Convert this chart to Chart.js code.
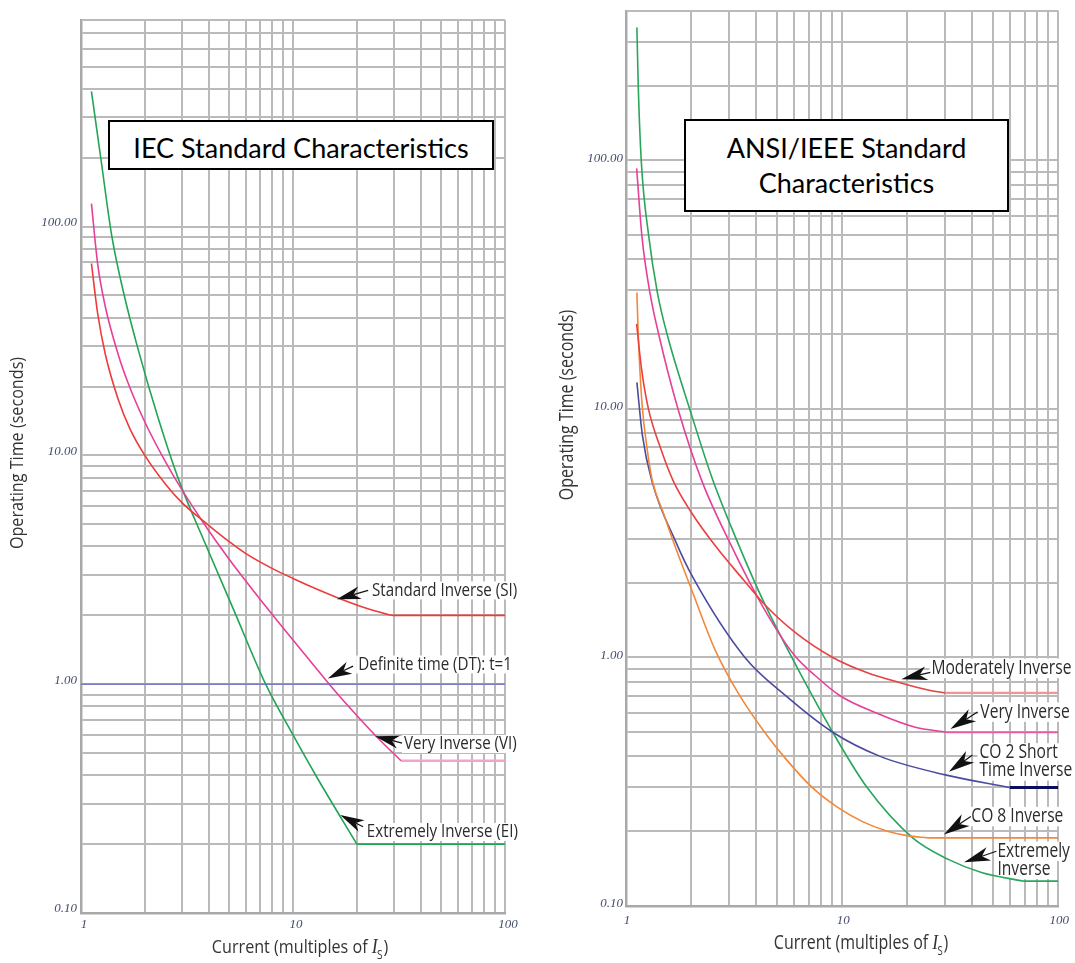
<!DOCTYPE html>
<html lang="en">
<head>
<meta charset="utf-8">
<title>IEC and ANSI/IEEE relay characteristics</title>
<script src="https://cdn.jsdelivr.net/npm/chart.js@4.4.1/dist/chart.umd.min.js"></script>
<style>
  html, body { margin: 0; padding: 0; background: #ffffff; }
  #page { position: relative; width: 1075px; height: 963px; overflow: hidden; }
  #leftChart { position: absolute; left: 0; top: 0; }
  #rightChart { position: absolute; left: 540px; top: 0; }
  .title-box {
    position: absolute; box-sizing: border-box; border: 2px solid #000; background: #fff;
    font-family: Lato, 'Open Sans', sans-serif; font-size: 27px; line-height: 35px;
    text-align: center; color: #000;
  }
  #iecTitle { left: 108px; top: 120px; width: 386px; height: 50px; padding-top: 8px; }
  #ansiTitle { left: 684px; top: 119px; width: 325px; height: 93px; padding-top: 9px; }
</style>
</head>
<body>
<div id="page">
  <canvas id="leftChart" width="540" height="963"></canvas>
  <canvas id="rightChart" width="535" height="963"></canvas>
  <div class="title-box" id="iecTitle">IEC Standard Characteristics</div>
  <div class="title-box" id="ansiTitle">ANSI/IEEE Standard<br>Characteristics</div>
</div>
<script>
// ---- axis ticks ----
const currentTicks = [1, 2, 3, 4, 5, 6, 7, 8, 9, 10, 20, 30, 40, 50, 60, 70, 80, 90, 100];
const currentLabels = [1, 10, 100];
const iecTimeTicks = [0.1, 0.2, 0.3, 0.4, 0.5, 0.6, 0.7, 0.8, 0.9, 1, 2, 3, 4, 5, 6, 7, 8, 9,
  10, 20, 30, 40, 50, 60, 70, 80, 90, 100, 200, 300, 400, 500, 600, 700, 800];
const ansiTimeTicks = [0.1, 0.2, 0.3, 0.4, 0.5, 0.6, 0.7, 0.8, 0.9, 1, 2, 3, 4, 5, 6, 7, 8, 9,
  10, 20, 30, 40, 50, 60, 70, 80, 90, 100, 200, 300, 400];
const timeLabels = [0.1, 1, 10, 100];

// ---- IEC curves (current in multiples of Is, time in s) ----
const siCurrent = [1.12, 1.2, 1.3, 1.5, 1.7, 2, 2.5, 3, 4, 5, 6, 8, 10, 13, 16, 20, 25, 30, 100];
const siTime    = [69, 41.4, 27.9, 17.5, 13.1, 10, 7.5, 6.2, 4.95, 4.2, 3.72, 3.2, 2.9, 2.6, 2.4, 2.22, 2.08, 2.0, 2.0];

const viCurrent = [1.12, 1.2, 1.3, 1.5, 1.7, 2, 2.5, 3, 4, 5, 6, 8, 10, 13, 16, 20, 25, 32.3];
const viTime    = [126, 68, 45, 27.5, 19.8, 14, 9.4, 7.05, 4.7, 3.52, 2.82, 2.01, 1.56, 1.16, 0.92, 0.73, 0.585, 0.463];
const viFlatCurrent = [32.3, 100];
const viFlatTime    = [0.463, 0.463];

const eiCurrent = [1.12, 1.24, 1.4, 1.6, 1.85, 2.3, 2.9, 3.92, 5.3, 7.43, 10, 13, 20];
const eiTime    = [390, 199, 89.9, 50, 29.6, 14.8, 7.76, 3.97, 2.07, 1.0, 0.6, 0.39, 0.2];
const eiFlatCurrent = [20, 100];
const eiFlatTime    = [0.2, 0.2];

const dtCurrent = [1, 100];
const dtTime    = [1, 1];

// ---- ANSI/IEEE curves ----
const miCurrent = [1.12, 1.18, 1.27, 1.45, 1.66, 2.0, 2.6, 3.5, 4.3, 6.0, 9.05, 13, 18.7, 25, 30];
const miTime    = [22, 14.5, 10, 6.9, 5.1, 3.85, 2.8, 2.05, 1.66, 1.27, 1.0, 0.87, 0.79, 0.74, 0.72];
const miFlatCurrent = [30, 100];
const miFlatTime    = [0.72, 0.72];

const aviCurrent = [1.12, 1.186, 1.29, 1.422, 1.74, 2.25, 3.05, 4.23, 5.96, 7.5, 9.7, 14.5, 21.6, 30.5];
const aviTime    = [92.9, 49.1, 29.4, 19.7, 10, 5.1, 2.85, 1.64, 1.03, 0.846, 0.705, 0.596, 0.525, 0.5];
const aviFlatCurrent = [30.5, 100];
const aviFlatTime    = [0.5, 0.5];

const co2Current = [1.123, 1.19, 1.32, 1.706, 2.04, 3.55, 5.5, 9.05, 15, 30, 59.6];
const co2Time    = [12.8, 7.87, 5.1, 2.9, 2.1, 1.0, 0.7, 0.5, 0.4, 0.337, 0.3];
const co2FlatCurrent = [59.6, 100];
const co2FlatTime    = [0.3, 0.3];

const co8Current = [1.123, 1.14, 1.186, 1.25, 1.32, 1.5, 1.7, 2.0, 2.6, 3.3, 4.38, 5.5, 7.26, 9.5, 12.5, 16.2, 20, 25];
const co8Time    = [29.4, 19.7, 10.5, 7.0, 5.2, 3.75, 2.75, 1.9, 1.06, 0.72, 0.5, 0.39, 0.3, 0.25, 0.218, 0.2, 0.192, 0.188];
const co8FlatCurrent = [25, 100];
const co8FlatTime    = [0.188, 0.188];

const aeiCurrent = [1.123, 1.14, 1.178, 1.276, 1.397, 1.556, 1.971, 2.497, 3.16, 4.3, 5.85, 9.05, 13.0, 21.2, 31, 44.5, 68.7];
const aeiTime    = [343, 196, 98, 49.1, 29.4, 19.7, 10, 5.3, 3.15, 1.7, 1.0, 0.5, 0.301, 0.188, 0.154, 0.136, 0.126];
const aeiFlatCurrent = [68.7, 100];
const aeiFlatTime    = [0.126, 0.126];

// ---- curve labels: text start, arrow tip and arrow tail, in data units ----
const iecNotes = [
  { text: ['Standard Inverse (SI)'], at: [23.6, 2.57], tip: [16.1, 2.35], tail: [22.6, 2.57] },
  { text: ['Definite time (DT): t=1'], at: [20.3, 1.22], tip: [14.6, 1.06], tail: [19.2, 1.2] },
  { text: ['Very Inverse (VI)'], at: [33.4, 0.548], tip: [24.4, 0.593], tail: [32.7, 0.553] },
  { text: ['Extremely Inverse (EI)'], at: [22.3, 0.226], tip: [16.7, 0.268], tail: [21.4, 0.238] }
];
const ansiNotes = [
  { text: ['Moderately Inverse'], at: [25.9, 0.904], tip: [18.8, 0.817], tail: [25.6, 0.871] },
  { text: ['Very Inverse'], at: [43.6, 0.603], tip: [31.7, 0.515], tail: [42.3, 0.603] },
  { text: ['CO 2 Short', 'Time Inverse'], at: [43.2, 0.413], tip: [31.2, 0.347], tail: [40.1, 0.405] },
  { text: ['CO 8 Inverse'], at: [39.6, 0.229], tip: [29.6, 0.194], tail: [39.4, 0.229] },
  { text: ['Extremely', 'Inverse'], at: [52.3, 0.166], tip: [36.7, 0.150], tail: [51.7, 0.166] }
];

const gridColor = '#bababa';
const tickColor = '#434b6c';
const labelFamily = "'Open Sans', 'Noto Sans', sans-serif";

function points(xs, ys) {
  return xs.map((x, i) => ({ x: x, y: ys[i] }));
}

function line(xs, ys, color, width) {
  return {
    data: points(xs, ys),
    borderColor: color,
    borderWidth: width,
    pointRadius: 0,
    fill: false,
    cubicInterpolationMode: 'monotone'
  };
}

function drawDart(ctx, tx, ty, sx, sy, len, half) {
  const dx = tx - sx, dy = ty - sy;
  const d = Math.hypot(dx, dy);
  const ux = dx / d, uy = dy / d, nx = -uy, ny = ux;
  const bx = tx - ux * len, by = ty - uy * len;
  const mx = tx - ux * len * 0.72, my = ty - uy * len * 0.72;
  ctx.beginPath();
  ctx.moveTo(tx, ty);
  ctx.lineTo(bx + nx * half, by + ny * half);
  ctx.lineTo(mx, my);
  ctx.lineTo(bx - nx * half, by - ny * half);
  ctx.closePath();
  ctx.fill();
  ctx.beginPath();
  ctx.moveTo(mx, my);
  ctx.lineTo(sx, sy);
  ctx.stroke();
}

// draws the curve labels, arrows and the axis titles
function decorPlugin(notes, look) {
  const font = look.size + 'px ' + labelFamily;
  return {
    id: 'decor',
    beforeDatasetsDraw(chart) {
      const ctx = chart.ctx, xs = chart.scales.x, ys = chart.scales.y;
      ctx.save();
      ctx.font = font;
      ctx.fillStyle = '#ffffff';
      notes.forEach(n => {
        const x = xs.getPixelForValue(n.at[0]);
        const y = ys.getPixelForValue(n.at[1]);
        n.text.forEach((t, i) => {
          const w = ctx.measureText(t).width * look.squeeze;
          ctx.fillRect(x - 2, y + i * look.gap - look.size * 0.5, w + 4, look.size);
        });
      });
      ctx.restore();
    },
    afterDatasetsDraw(chart) {
      const ctx = chart.ctx, xs = chart.scales.x, ys = chart.scales.y;
      ctx.save();
      ctx.fillStyle = '#111111';
      ctx.strokeStyle = '#111111';
      ctx.lineWidth = 1.2;
      notes.forEach(n => {
        drawDart(ctx,
          xs.getPixelForValue(n.tip[0]), ys.getPixelForValue(n.tip[1]),
          xs.getPixelForValue(n.tail[0]), ys.getPixelForValue(n.tail[1]),
          look.dart, look.dart * 0.27);
      });
      ctx.font = font;
      ctx.fillStyle = '#2b2b2b';
      ctx.textBaseline = 'middle';
      ctx.textAlign = 'left';
      notes.forEach(n => {
        const x = xs.getPixelForValue(n.at[0]);
        const y = ys.getPixelForValue(n.at[1]);
        n.text.forEach((t, i) => {
          ctx.save();
          ctx.translate(x, y + i * look.gap);
          ctx.scale(look.squeeze, 1);
          ctx.fillText(t, 0, 0);
          ctx.restore();
        });
      });

      // y axis title
      ctx.save();
      ctx.font = look.titleSize + 'px ' + labelFamily;
      ctx.fillStyle = '#333333';
      ctx.textAlign = 'center';
      ctx.translate(look.yTitle[0], look.yTitle[1]);
      ctx.rotate(-Math.PI / 2);
      ctx.scale(look.titleSqueeze, 1);
      ctx.fillText('Operating Time (seconds)', 0, 0);
      ctx.restore();

      // x axis title with italic I and subscript S
      const sans = look.titleSize + 'px ' + labelFamily;
      const ital = 'italic ' + Math.round(look.titleSize * 1.1) + "px 'Liberation Serif', serif";
      const sub = Math.round(look.titleSize * 0.62) + 'px ' + labelFamily;
      const partA = 'Current (multiples of ';
      ctx.font = sans; const wA = ctx.measureText(partA).width; const wB = ctx.measureText(')').width;
      ctx.font = ital; const wI = ctx.measureText('I').width;
      ctx.font = sub; const wS = ctx.measureText('S').width;
      const total = (wA + wI + wS + wB) * look.titleSqueeze;
      ctx.save();
      ctx.fillStyle = '#333333';
      ctx.textBaseline = 'alphabetic';
      ctx.translate(look.xTitle[0] - total / 2, look.xTitle[1]);
      ctx.scale(look.titleSqueeze, 1);
      ctx.font = sans; ctx.fillText(partA, 0, 0);
      ctx.font = ital; ctx.fillText('I', wA, 0);
      ctx.font = sub; ctx.fillText('S', wA + wI - 1, look.titleSize * 0.32);
      ctx.font = sans; ctx.fillText(')', wA + wI + wS, 0);
      ctx.restore();

      ctx.restore();
    }
  };
}

function makeChart(id, datasets, notes, look) {
  const tickFont = { family: "'Liberation Serif', 'DejaVu Serif', serif", style: 'italic', size: 13 };
  return new Chart(document.getElementById(id), {
    type: 'line',
    data: { datasets: datasets },
    options: {
      responsive: false,
      animation: false,
      events: [],
      layout: { padding: { left: 0, right: look.padRight, top: look.padTop, bottom: 0 } },
      plugins: { legend: { display: false }, tooltip: { enabled: false } },
      scales: {
        x: {
          type: 'logarithmic',
          min: 1,
          max: 100,
          afterBuildTicks: s => { s.ticks = currentTicks.map(v => ({ value: v })); },
          afterFit: s => { s.height = look.xHeight; },
          grid: { color: gridColor, lineWidth: 2, drawTicks: false },
          border: { display: true, color: '#a9a9a9', width: 2.5 },
          ticks: {
            autoSkip: false, maxRotation: 0, padding: look.xPad, labelOffset: look.xOffset,
            font: tickFont, color: tickColor,
            callback: v => currentLabels.includes(v) ? String(v) : ''
          }
        },
        y: {
          type: 'logarithmic',
          min: 0.1,
          max: look.yMax,
          afterBuildTicks: s => { s.ticks = look.yTicks.map(v => ({ value: v })); },
          afterFit: s => { s.width = look.yWidth; },
          grid: { color: gridColor, lineWidth: 2, drawTicks: false },
          border: { display: true, color: '#a9a9a9', width: 2.5 },
          ticks: {
            autoSkip: false, padding: look.yPad, labelOffset: look.yOffset,
            font: tickFont, color: tickColor,
            callback: v => timeLabels.includes(v) ? v.toFixed(2) : ''
          }
        }
      }
    },
    plugins: [decorPlugin(notes, look)]
  });
}

makeChart('leftChart', [
  line(dtCurrent, dtTime, '#6a6ac4', 1.3),
  line(siCurrent, siTime, '#ee3a3a', 1.6),
  line(viCurrent, viTime, '#e83f98', 1.6),
  line(viFlatCurrent, viFlatTime, '#f4a3ca', 2.4),
  line(eiCurrent, eiTime, '#22a455', 1.6),
  line(eiFlatCurrent, eiFlatTime, '#22a455', 1.8)
], iecNotes, {
  padRight: 35, padTop: 20, xHeight: 50, yWidth: 81, yMax: 800, yTicks: iecTimeTicks,
  xPad: 4, xOffset: 3, yPad: 4, yOffset: -4,
  size: 18, squeeze: 0.84, gap: 17, dart: 24,
  titleSize: 19, titleSqueeze: 0.85, yTitle: [18, 453], xTitle: [300, 953]
});

makeChart('rightChart', [
  line(miCurrent, miTime, '#ea4040', 1.6),
  line(miFlatCurrent, miFlatTime, '#f29494', 2.2),
  line(co8Current, co8Time, '#f3883a', 1.6),
  line(co8FlatCurrent, co8FlatTime, '#f3883a', 1.8),
  line(co2Current, co2Time, '#4b4ba2', 1.6),
  line(co2FlatCurrent, co2FlatTime, '#0c0c5c', 3),
  line(aviCurrent, aviTime, '#e83f98', 1.6),
  line(aviFlatCurrent, aviFlatTime, '#ea58a6', 1.8),
  line(aeiCurrent, aeiTime, '#28a65c', 1.6),
  line(aeiFlatCurrent, aeiFlatTime, '#28a65c', 1.8)
], ansiNotes, {
  padRight: 16, padTop: 8, xHeight: 57, yWidth: 86, yMax: 400, yTicks: ansiTimeTicks,
  xPad: 7, xOffset: 1, yPad: 3, yOffset: -2,
  size: 19.5, squeeze: 0.8, gap: 18, dart: 26,
  titleSize: 20, titleSqueeze: 0.8, yTitle: [27, 405], xTitle: [321, 949]
});
</script>
</body>
</html>
